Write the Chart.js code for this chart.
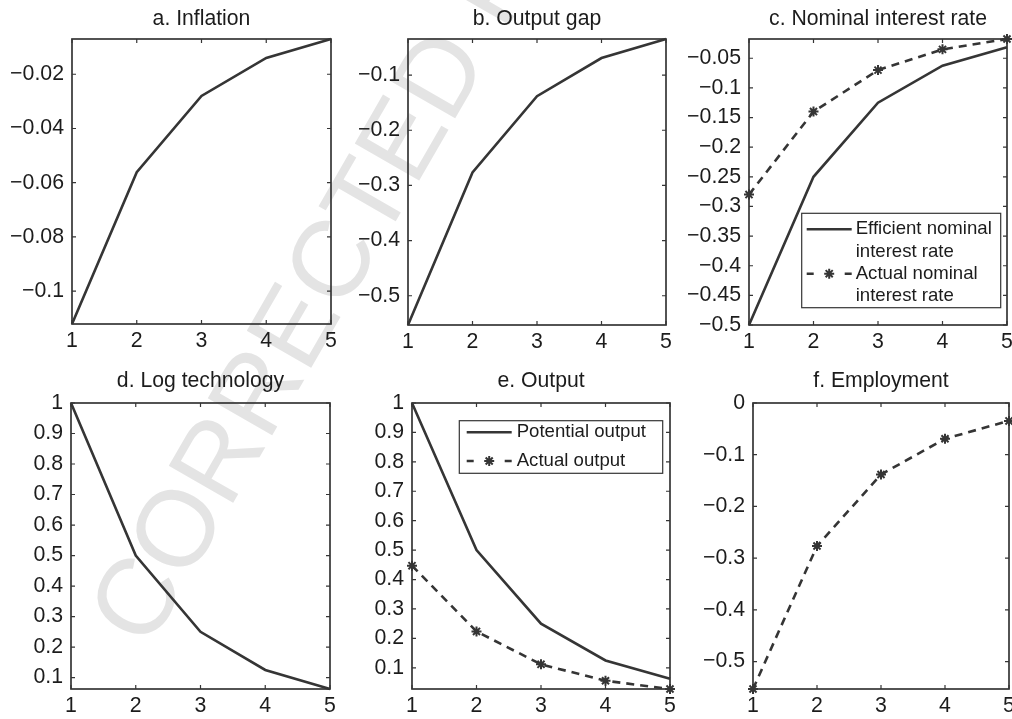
<!DOCTYPE html>
<html>
<head>
<meta charset="utf-8">
<script src="https://cdn.jsdelivr.net/npm/chart.js@4.4.1/dist/chart.umd.min.js"></script>
<style>
  html, body { margin: 0; padding: 0; background: #fff; }
  body { width: 1012px; height: 719px; overflow: hidden; position: relative; }
  .stamp {
    position: absolute; left: 147.7px; top: 651.3px;
    font: 108px/1 "Liberation Sans", Arial, sans-serif;
    color: #e4e4e4; white-space: nowrap;
    transform-origin: 0 0;
    transform: rotate(-60deg) translate(0, -91.4px);
    z-index: 0;
  }
  canvas { position: absolute; z-index: 1; pointer-events: none; }
</style>
</head>
<body>
<div class="stamp">CORRECTED PROOF</div>
<script>
// ---- data -------------------------------------------------------------
const periods = [1, 2, 3, 4, 5];

const inflation       = [-0.1121, -0.0561, -0.0280, -0.0140, -0.0070];
const outputGap       = [-0.5530, -0.2765, -0.1383, -0.0691, -0.0346];
const efficientRate   = [-0.5000, -0.2500, -0.1250, -0.0625, -0.03125];
const actualRate      = [-0.2800, -0.1400, -0.0700, -0.0350, -0.0175];
const logTechnology   = [1.0000, 0.5000, 0.2500, 0.1250, 0.0625];
const potentialOutput = [1.0000, 0.5000, 0.2500, 0.1250, 0.0625];
const actualOutput    = [0.4470, 0.2235, 0.1117, 0.0559, 0.0279];
const employment      = [-0.5530, -0.2765, -0.1383, -0.0691, -0.0346];

// tick values
const xTicks         = [1, 2, 3, 4, 5];
const inflationTicks = [-0.1, -0.08, -0.06, -0.04, -0.02];
const gapTicks       = [-0.5, -0.4, -0.3, -0.2, -0.1];
const rateTicks      = [-0.5, -0.45, -0.4, -0.35, -0.3, -0.25, -0.2, -0.15, -0.1, -0.05];
const levelTicks     = [0.1, 0.2, 0.3, 0.4, 0.5, 0.6, 0.7, 0.8, 0.9, 1];
const employTicks    = [-0.5, -0.4, -0.3, -0.2, -0.1, 0];

// titles and legend texts
const panelTitles = ['a. Inflation', 'b. Output gap', 'c. Nominal interest rate',
                     'd. Log technology', 'e. Output', 'f. Employment'];
const rateLegend   = [['Efficient nominal', 'interest rate'], ['Actual nominal', 'interest rate']];
const outputLegend = [['Potential output'], ['Actual output']];

// ---- styling ----------------------------------------------------------
const INK = '#353535';
const TEXT = '#1c1c1c';
const FAMILY = '"Liberation Sans", Arial, Helvetica, sans-serif';
const Y_AXIS_W = 78;      // room for y tick labels
const X_AXIS_H = 32;      // room for x tick labels
const TITLE_BAND = 38;    // room for the panel title
const RIGHT_PAD = 14;
const TICK = 4;

const fmt = v => String(Math.round(v * 1e6) / 1e6).replace('-', '\u2212');

// panel frames: plot-area left, top, right, bottom
const panels = [
  { title: panelTitles[0], frame: [72, 39, 331, 324], titleGap: 13, yTicks: inflationTicks,
    series: [{ values: inflation, dashed: false }] },
  { title: panelTitles[1], frame: [408, 38.5, 666, 324], titleGap: 13, yTicks: gapTicks,
    series: [{ values: outputGap, dashed: false }] },
  { title: panelTitles[2], frame: [749, 38.5, 1007, 324], titleGap: 13, yTicks: rateTicks,
    series: [{ values: efficientRate, dashed: false }, { values: actualRate, dashed: true }],
    legend: { texts: rateLegend, anchor: 'bottom', inset: [6.3, 17.3], size: [199, 94.4],
              firstLine: 16, lineGap: 22.2, sample: [5, 50], textX: 54 } },
  { title: panelTitles[3], frame: [71, 403, 330, 689], titleGap: 15, yTicks: levelTicks,
    series: [{ values: logTechnology, dashed: false }] },
  { title: panelTitles[4], frame: [412, 403, 670, 689], titleGap: 15, yTicks: levelTicks,
    series: [{ values: potentialOutput, dashed: false }, { values: actualOutput, dashed: true }],
    legend: { texts: outputLegend, anchor: 'top', inset: [7.3, 17.7], size: [203.4, 52.6],
              firstLine: 11.6, lineGap: 28.7, sample: [7.4, 52.4], textX: 57.4 } },
  { title: panelTitles[5], frame: [753, 403, 1009, 689], titleGap: 15, yTicks: employTicks, yMax: 0,
    series: [{ values: employment, dashed: true }] }
];

// ---- plugins ----------------------------------------------------------
function drawStar(ctx, x, y, r) {
  ctx.beginPath();
  ctx.moveTo(x - r, y); ctx.lineTo(x + r, y);
  ctx.moveTo(x, y - r); ctx.lineTo(x, y + r);
  const d = r * Math.SQRT1_2;
  ctx.moveTo(x - d, y - d); ctx.lineTo(x + d, y + d);
  ctx.moveTo(x - d, y + d); ctx.lineTo(x + d, y - d);
  ctx.stroke();
}

// boxed axes with inward ticks on all four sides
const boxedAxes = {
  id: 'boxedAxes',
  beforeDatasetsDraw(chart) {
    const { ctx, chartArea: a, scales: { x, y } } = chart;
    ctx.save();
    ctx.strokeStyle = INK;
    ctx.lineWidth = 1.7;
    ctx.strokeRect(a.left, a.top, a.width, a.height);
    ctx.lineWidth = 1.2;
    ctx.beginPath();
    x.ticks.forEach(t => {
      const px = x.getPixelForValue(t.value);
      ctx.moveTo(px, a.bottom); ctx.lineTo(px, a.bottom - TICK);
      ctx.moveTo(px, a.top);    ctx.lineTo(px, a.top + TICK);
    });
    y.ticks.forEach(t => {
      const py = y.getPixelForValue(t.value);
      ctx.moveTo(a.left, py);  ctx.lineTo(a.left + TICK, py);
      ctx.moveTo(a.right, py); ctx.lineTo(a.right - TICK, py);
    });
    ctx.stroke();
    ctx.restore();
  }
};

// legend box placed inside the plot area
const insetLegend = {
  id: 'insetLegend',
  afterDatasetsDraw(chart, args, opts) {
    if (!opts || !opts.texts) return;
    const { ctx, chartArea: a } = chart;
    const [w, h] = opts.size;
    const left = a.right - opts.inset[0] - w;
    const top = opts.anchor === 'top' ? a.top + opts.inset[1] : a.bottom - opts.inset[1] - h;
    ctx.save();
    ctx.fillStyle = '#fff';
    ctx.fillRect(left, top, w, h);
    ctx.strokeStyle = INK;
    ctx.lineWidth = 1.2;
    ctx.strokeRect(left, top, w, h);
    ctx.font = '18.6px ' + FAMILY;
    ctx.fillStyle = TEXT;
    ctx.textBaseline = 'middle';
    let line = 0;
    opts.texts.forEach((lines, i) => {
      const ds = chart.data.datasets[i];
      const cy = top + opts.firstLine + line * opts.lineGap;
      const x0 = left + opts.sample[0], x1 = left + opts.sample[1];
      ctx.strokeStyle = ds.borderColor;
      ctx.lineWidth = ds.borderWidth;
      ctx.beginPath();
      if (ds.borderDash && ds.borderDash.length) {
        ctx.moveTo(x0, cy); ctx.lineTo(x0 + 7, cy);
        ctx.moveTo(x1 - 7, cy); ctx.lineTo(x1, cy);
        ctx.stroke();
        ctx.lineWidth = ds.pointBorderWidth;
        drawStar(ctx, (x0 + x1) / 2, cy, ds.pointRadius);
      } else {
        ctx.moveTo(x0, cy); ctx.lineTo(x1, cy);
        ctx.stroke();
      }
      lines.forEach(txt => {
        ctx.fillText(txt, left + opts.textX, top + opts.firstLine + line * opts.lineGap);
        line++;
      });
    });
    ctx.restore();
  }
};

// ---- build the six panels --------------------------------------------
panels.forEach(p => {
  const [L, T, R, B] = p.frame;
  const canvas = document.createElement('canvas');
  const cw = Math.round((R - L) + Y_AXIS_W + RIGHT_PAD);
  const ch = Math.round((B - T) + TITLE_BAND + X_AXIS_H);
  canvas.width = cw; canvas.height = ch;
  canvas.style.left = (L - Y_AXIS_W) + 'px';
  canvas.style.top = (T - TITLE_BAND) + 'px';
  canvas.style.width = cw + 'px';
  canvas.style.height = ch + 'px';
  document.body.appendChild(canvas);

  const all = p.series.flatMap(s => s.values);
  const yMin = Math.min(...all);
  const yMax = p.yMax !== undefined ? p.yMax : Math.max(...all);

  // title: baseline sits titleGap px above the plot
  const titleSize = 21.2, lh = titleSize * 1.2;
  const padTop = (TITLE_BAND - p.titleGap) - 0.3465 * titleSize - lh / 2;
  const padBottom = TITLE_BAND - padTop - lh;

  const tickFont = { family: FAMILY, size: 21.3 };

  new Chart(canvas, {
    type: 'line',
    data: {
      datasets: p.series.map(s => ({
        data: periods.map((x, i) => ({ x, y: s.values[i] })),
        borderColor: INK,
        borderWidth: 2.6,
        borderDash: s.dashed ? [8, 6] : [],
        borderJoinStyle: 'miter',
        pointStyle: 'star',
        pointRadius: s.dashed ? 5 : 0,
        pointBorderWidth: 2,
        pointBorderColor: INK,
        pointBackgroundColor: INK,
        tension: 0,
        fill: false,
        clip: false
      }))
    },
    options: {
      responsive: false,
      animation: false,
      events: [],
      layout: { padding: { left: 0, top: 0, right: RIGHT_PAD, bottom: 0 } },
      plugins: {
        legend: { display: false },
        tooltip: { enabled: false },
        title: {
          display: true, text: p.title, color: TEXT, fullSize: false,
          font: { family: FAMILY, size: titleSize, weight: 'normal', lineHeight: 1.2 },
          padding: { top: padTop, bottom: padBottom }
        },
        insetLegend: p.legend || {}
      },
      scales: {
        x: {
          type: 'linear', min: 1, max: 5,
          afterBuildTicks: sc => { sc.ticks = xTicks.map(v => ({ value: v })); },
          afterFit: sc => { sc.height = X_AXIS_H; },
          grid: { display: false, drawTicks: false },
          border: { display: false },
          ticks: { color: TEXT, font: tickFont, padding: 4.5, maxRotation: 0, autoSkip: false, callback: v => fmt(v) }
        },
        y: {
          type: 'linear', min: yMin, max: yMax,
          afterBuildTicks: sc => { sc.ticks = p.yTicks.map(v => ({ value: v })); },
          afterFit: sc => { sc.width = Y_AXIS_W; },
          grid: { display: false, drawTicks: false },
          border: { display: false },
          ticks: { color: TEXT, font: tickFont, padding: 8, autoSkip: false, callback: v => fmt(v) }
        }
      }
    },
    plugins: [boxedAxes, insetLegend]
  });
});
</script>
</body>
</html>
